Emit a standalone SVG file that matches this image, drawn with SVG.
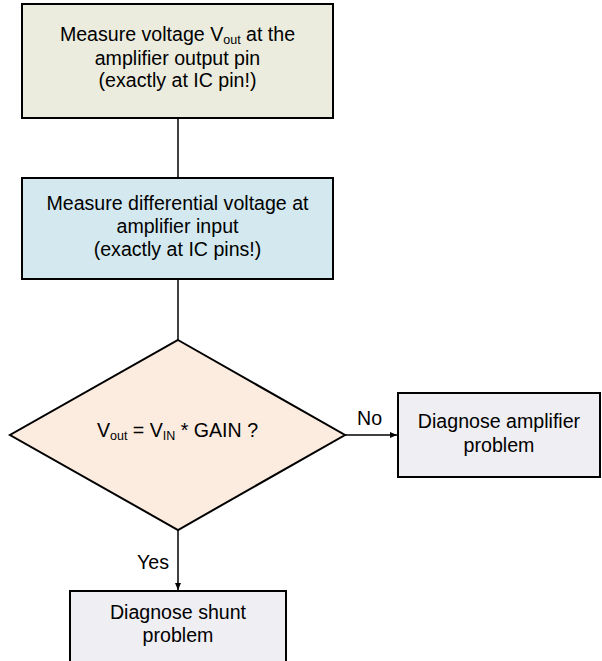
<svg xmlns="http://www.w3.org/2000/svg" width="602" height="661" viewBox="0 0 602 661">
<defs>
<style>
.box{stroke:#000;stroke-width:2}
.t{font-family:"Liberation Sans",Arial,sans-serif;font-size:19.6px;fill:#000;text-anchor:middle}
.lbl{font-family:"Liberation Sans",Arial,sans-serif;font-size:19.6px;fill:#000}
.sub{font-size:12.5px}
.line{stroke:#000;stroke-width:1.5;fill:none}
</style>
<marker id="arr" markerWidth="8" markerHeight="8" refX="7" refY="4" orient="auto" markerUnits="userSpaceOnUse">
<path d="M0,1 L7,4 L0,7 Z" fill="#000"/>
</marker>
</defs>
<rect width="602" height="661" fill="#fff"/>
<g id="connectors">
<line class="line" x1="178" y1="118" x2="178" y2="178"/>
<line class="line" x1="178" y1="279" x2="178" y2="340"/>
<line class="line" x1="345" y1="435" x2="397" y2="435" marker-end="url(#arr)"/>
<line class="line" x1="178" y1="530" x2="178" y2="590" marker-end="url(#arr)"/>
<text class="lbl" x="357" y="425">No</text>
<text class="lbl" x="137" y="569">Yes</text>
</g>
<g id="measure-vout">
<rect class="box" x="22" y="4" width="311" height="114" fill="#EBECDE"/>
<text class="t" x="177.5" y="41">Measure voltage V<tspan class="sub" dy="3">out</tspan><tspan dy="-3"> at the</tspan></text>
<text class="t" x="177.5" y="65">amplifier output pin</text>
<text class="t" x="177.5" y="87">(exactly at IC pin!)</text>
</g>
<g id="measure-vin">
<rect class="box" x="22" y="178" width="311" height="101" fill="#D4E9EF"/>
<text class="t" x="177.5" y="210">Measure differential voltage at</text>
<text class="t" x="177.5" y="233">amplifier input</text>
<text class="t" x="177.5" y="256">(exactly at IC pins!)</text>
</g>
<g id="decision">
<polygon class="box" points="178,340 345,435 178,530 10,435" fill="#FCEBDF" stroke-width="1.5"/>
<text class="t" x="177.5" y="437">V<tspan class="sub" dy="3">out</tspan><tspan dy="-3"> = V</tspan><tspan class="sub" dy="3">IN</tspan><tspan dy="-3"> * GAIN ?</tspan></text>
</g>
<g id="diag-amp">
<rect class="box" x="398" y="393" width="202" height="84" fill="#EFEEF3"/>
<text class="t" x="499" y="428">Diagnose amplifier</text>
<text class="t" x="499" y="452">problem</text>
</g>
<g id="diag-shunt">
<rect class="box" x="70" y="591" width="216" height="80" fill="#EFEEF3"/>
<text class="t" x="178" y="619">Diagnose shunt</text>
<text class="t" x="178" y="642">problem</text>
</g>
</svg>
